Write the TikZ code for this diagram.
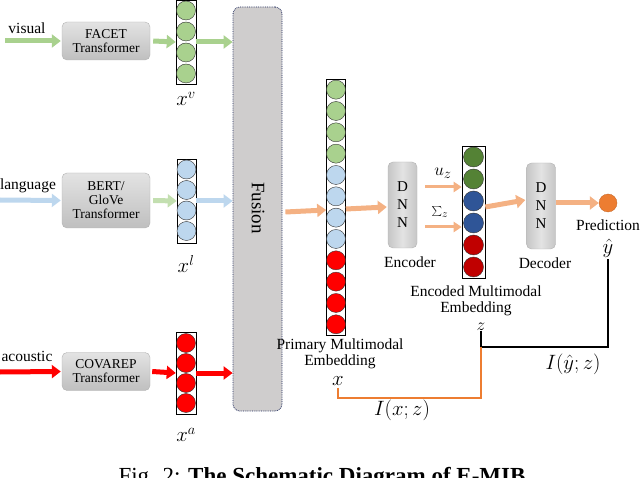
\documentclass[tikz,border=0pt]{standalone}
\usepackage{fontspec}
\setmainfont{Liberation Serif}
\usetikzlibrary{arrows.meta}
\definecolor{lgreen}{HTML}{A9D18E}
\definecolor{lblue}{HTML}{BDD7EE}
\definecolor{lorange}{HTML}{F4B183}
\definecolor{dgreen}{HTML}{548235}
\definecolor{dblue}{HTML}{2F5597}
\definecolor{dred}{HTML}{C00000}
\definecolor{porange}{HTML}{ED7D31}
\definecolor{fusegray}{HTML}{CFCDCD}
\definecolor{navy}{HTML}{1F2A5C}
\tikzset{
  fat/.style={line width=5pt,-{Triangle[length=9pt,width=13pt]}},
  thinfat/.style={line width=3pt,lorange,-{Triangle[length=8pt,width=10pt]}},
  transbox/.style={rounded corners=5pt,draw=gray!60,top color=gray!22,bottom color=gray!50,
    minimum width=88pt,align=center,font=\fontsize{13.5}{14}\selectfont,inner sep=2pt},
  dnnbox/.style={rounded corners=5pt,draw=gray!60,left color=gray!45,right color=gray!45,middle color=gray!22,
    minimum width=29pt,minimum height=86pt,align=center,font=\fontsize{15}{18}\selectfont},
  colbox/.style={draw=black,fill=white,line width=0.6pt,inner sep=0pt},
  cell/.style={draw=black!80,line width=0.4pt},
  lab/.style={font=\fontsize{15.5}{18}\selectfont,align=center,inner sep=1pt},
  mlab/.style={font=\fontsize{21}{22}\selectfont,inner sep=0pt},
  mtxt/.style={inner sep=0pt},
}
\begin{document}
\begin{tikzpicture}[x=1pt,y=-1pt]
\useasboundingbox (0,0) rectangle (640,478);
\clip (0,0) rectangle (640,478);

% Fusion block
\node[draw=navy,densely dotted,line width=0.8pt,fill=fusegray,rounded corners=7pt,
  minimum width=49pt,minimum height=404pt] (fusion) at (257.5,209) {};
\node[rotate=-90,font=\fontsize{19}{20}\selectfont] (fusiontxt) at (258,208) {Fusion};

% ---------- visual branch
\coordinate (vin) at (5,41);
\node[lab,anchor=base] (vtxt) at (27,34) {visual};
\node[transbox,minimum height=38pt] (facet) at (106,41) {FACET\\Transformer};
\node[colbox,minimum width=20pt,minimum height=84pt] (xv) at (186,42) {};
\foreach \y in {10.5,31.5,52.5,73.5}{\draw[cell,fill=lgreen] (186,\y) circle (9.5);}
\node[mlab] (xvl) at (186,99) {$x^{v}$};
\draw[fat,lgreen] (vin) -- ([xshift=-1pt]facet.west);
\draw[fat,lgreen] ([xshift=3pt]facet.east) -- (xv.west);
\draw[fat,lgreen] (xv.east) -- (xv.east -| fusion.west);

% ---------- language branch
\coordinate (lin) at (0,200);
\node[lab,anchor=base] (ltxt) at (28,190) {language};
\node[transbox,minimum height=55pt] (bert) at (106,200.5) {BERT/\\GloVe\\Transformer};
\node[colbox,minimum width=19pt,minimum height=84pt] (xl) at (186.5,201) {};
\foreach \y in {169.5,190,210.5,231}{\draw[cell,fill=lblue] (186.5,\y) circle (9.5);}
\node[mlab] (xll) at (186,264) {$x^{l}$};
\draw[fat,lblue] (lin) -- ([xshift=-1pt]bert.west);
\draw[fat,lgreen!70] ([xshift=3pt]bert.east) -- (xl.west);
\draw[fat,lblue] (xl.east) -- (xl.east -| fusion.west);

% ---------- acoustic branch
\coordinate (ain) at (0,372);
\node[lab,anchor=base] (atxt) at (27,362) {acoustic};
\node[transbox,minimum height=38pt] (covarep) at (106,371.5) {COVAREP\\Transformer};
\node[colbox,minimum width=20pt,minimum height=82pt] (xa) at (186,373) {};
\foreach \y in {343,363,383,403}{\draw[cell,fill=red] (186,\y) circle (9.5);}
\node[mlab] (xal) at (186,435) {$x^{a}$};
\draw[fat,red] (ain) -- ([xshift=-1pt]covarep.west);
\draw[fat,red] ([xshift=2pt]covarep.east) -- (xa.west);
\draw[fat,red] (xa.east) -- (xa.east -| fusion.west);

% ---------- primary multimodal embedding
\node[colbox,minimum width=19pt,minimum height=256pt] (prim) at (336,207) {};
\foreach \i/\c in {0/lgreen,1/lgreen,2/lgreen,3/lgreen,4/lblue,5/lblue,6/lblue,7/lblue,8/red,9/red,10/red,11/red}{
  \draw[cell,fill=\c] (336,{89.67+21.33*\i}) circle (9.5);}
\node[lab] (primtxt) at (340,354) {Primary Multimodal\\[-2pt]Embedding};
\node[mtxt,font=\fontsize{22}{22}\selectfont] (xx) at (338,381) {$x$};
\draw[fat,lorange] ([xshift=3pt,yshift=-3pt]fusion.east) -- ([yshift=-3pt]prim.west);

% ---------- encoder
\node[dnnbox] (enc) at (402.5,205) {D\\N\\N};
\node[lab] (enctxt) at (410,262) {Encoder};
\draw[fat,lorange] ([yshift=-2pt]prim.east) -- ([yshift=-2pt,xshift=-1pt]enc.west);

% ---------- encoded embedding
\node[colbox,minimum width=23pt,minimum height=132pt] (encd) at (473.5,212) {};
\foreach \i/\c in {0/dgreen,1/dgreen,2/dblue,3/dblue,4/dred,5/dred}{
  \draw[cell,fill=\c] (473.5,{157+22*\i}) circle (10);}
\draw[thinfat] ([xshift=8pt,yshift=18pt]enc.east) -- ([yshift=25pt]encd.west);
\draw[thinfat] ([xshift=8pt,yshift=-22pt]enc.east) -- ([yshift=-15pt]encd.west);
\node[mtxt,font=\fontsize{19}{20}\selectfont] (uz) at (443,173) {$u_z$};
\node[mtxt,font=\fontsize{16}{18}\selectfont] (sz) at (440,212) {$\sum_z$};
\node[lab] (encdtxt) at (476,301) {Encoded Multimodal\\[-2pt]Embedding};
\node[mtxt,font=\fontsize{19}{20}\selectfont] (zz) at (481,327) {$z$};

% ---------- decoder
\node[dnnbox] (dec) at (541,206) {D\\N\\N};
\node[lab] (dectxt) at (545,263) {Decoder};
\draw[fat,lorange] ([yshift=5pt]encd.east) -- ([yshift=6pt,xshift=-1pt]dec.west);

% ---------- prediction
\node[circle,fill=porange,draw=porange!80!black,line width=0.3pt,minimum size=18pt,inner sep=0pt] (pred) at (608,203) {};
\draw[fat,lorange] ([yshift=3pt]dec.east) -- (pred.west);
\node[lab] (predtxt) at (608,225) {Prediction};
\node[mtxt,font=\fontsize{21}{22}\selectfont] (yhat) at (608,248) {$\hat{y}$};

% ---------- information terms
\coordinate (corner) at (481,347);
\draw[black,line width=1.2pt] ([yshift=-2pt]yhat.south) |- (corner) -- (zz.south);
\node[mtxt,font=\fontsize{20}{22}\selectfont] (iyz) at (573,364) {$I(\hat{y};z)$};
\draw[porange,line width=1.2pt] ([yshift=-2pt]xx.south) |- (481,398) -- (corner);
\node[mtxt,font=\fontsize{20}{22}\selectfont] (ixz) at (402,410) {$I(x;z)$};

% ---------- caption (cut off at the lower edge, as in the reference)
\node[anchor=base,font=\fontsize{23}{26}\selectfont] (cap) at (322,483) {Fig. 2: \textbf{The Schematic Diagram of E-MIB}};
\end{tikzpicture}
\end{document}
